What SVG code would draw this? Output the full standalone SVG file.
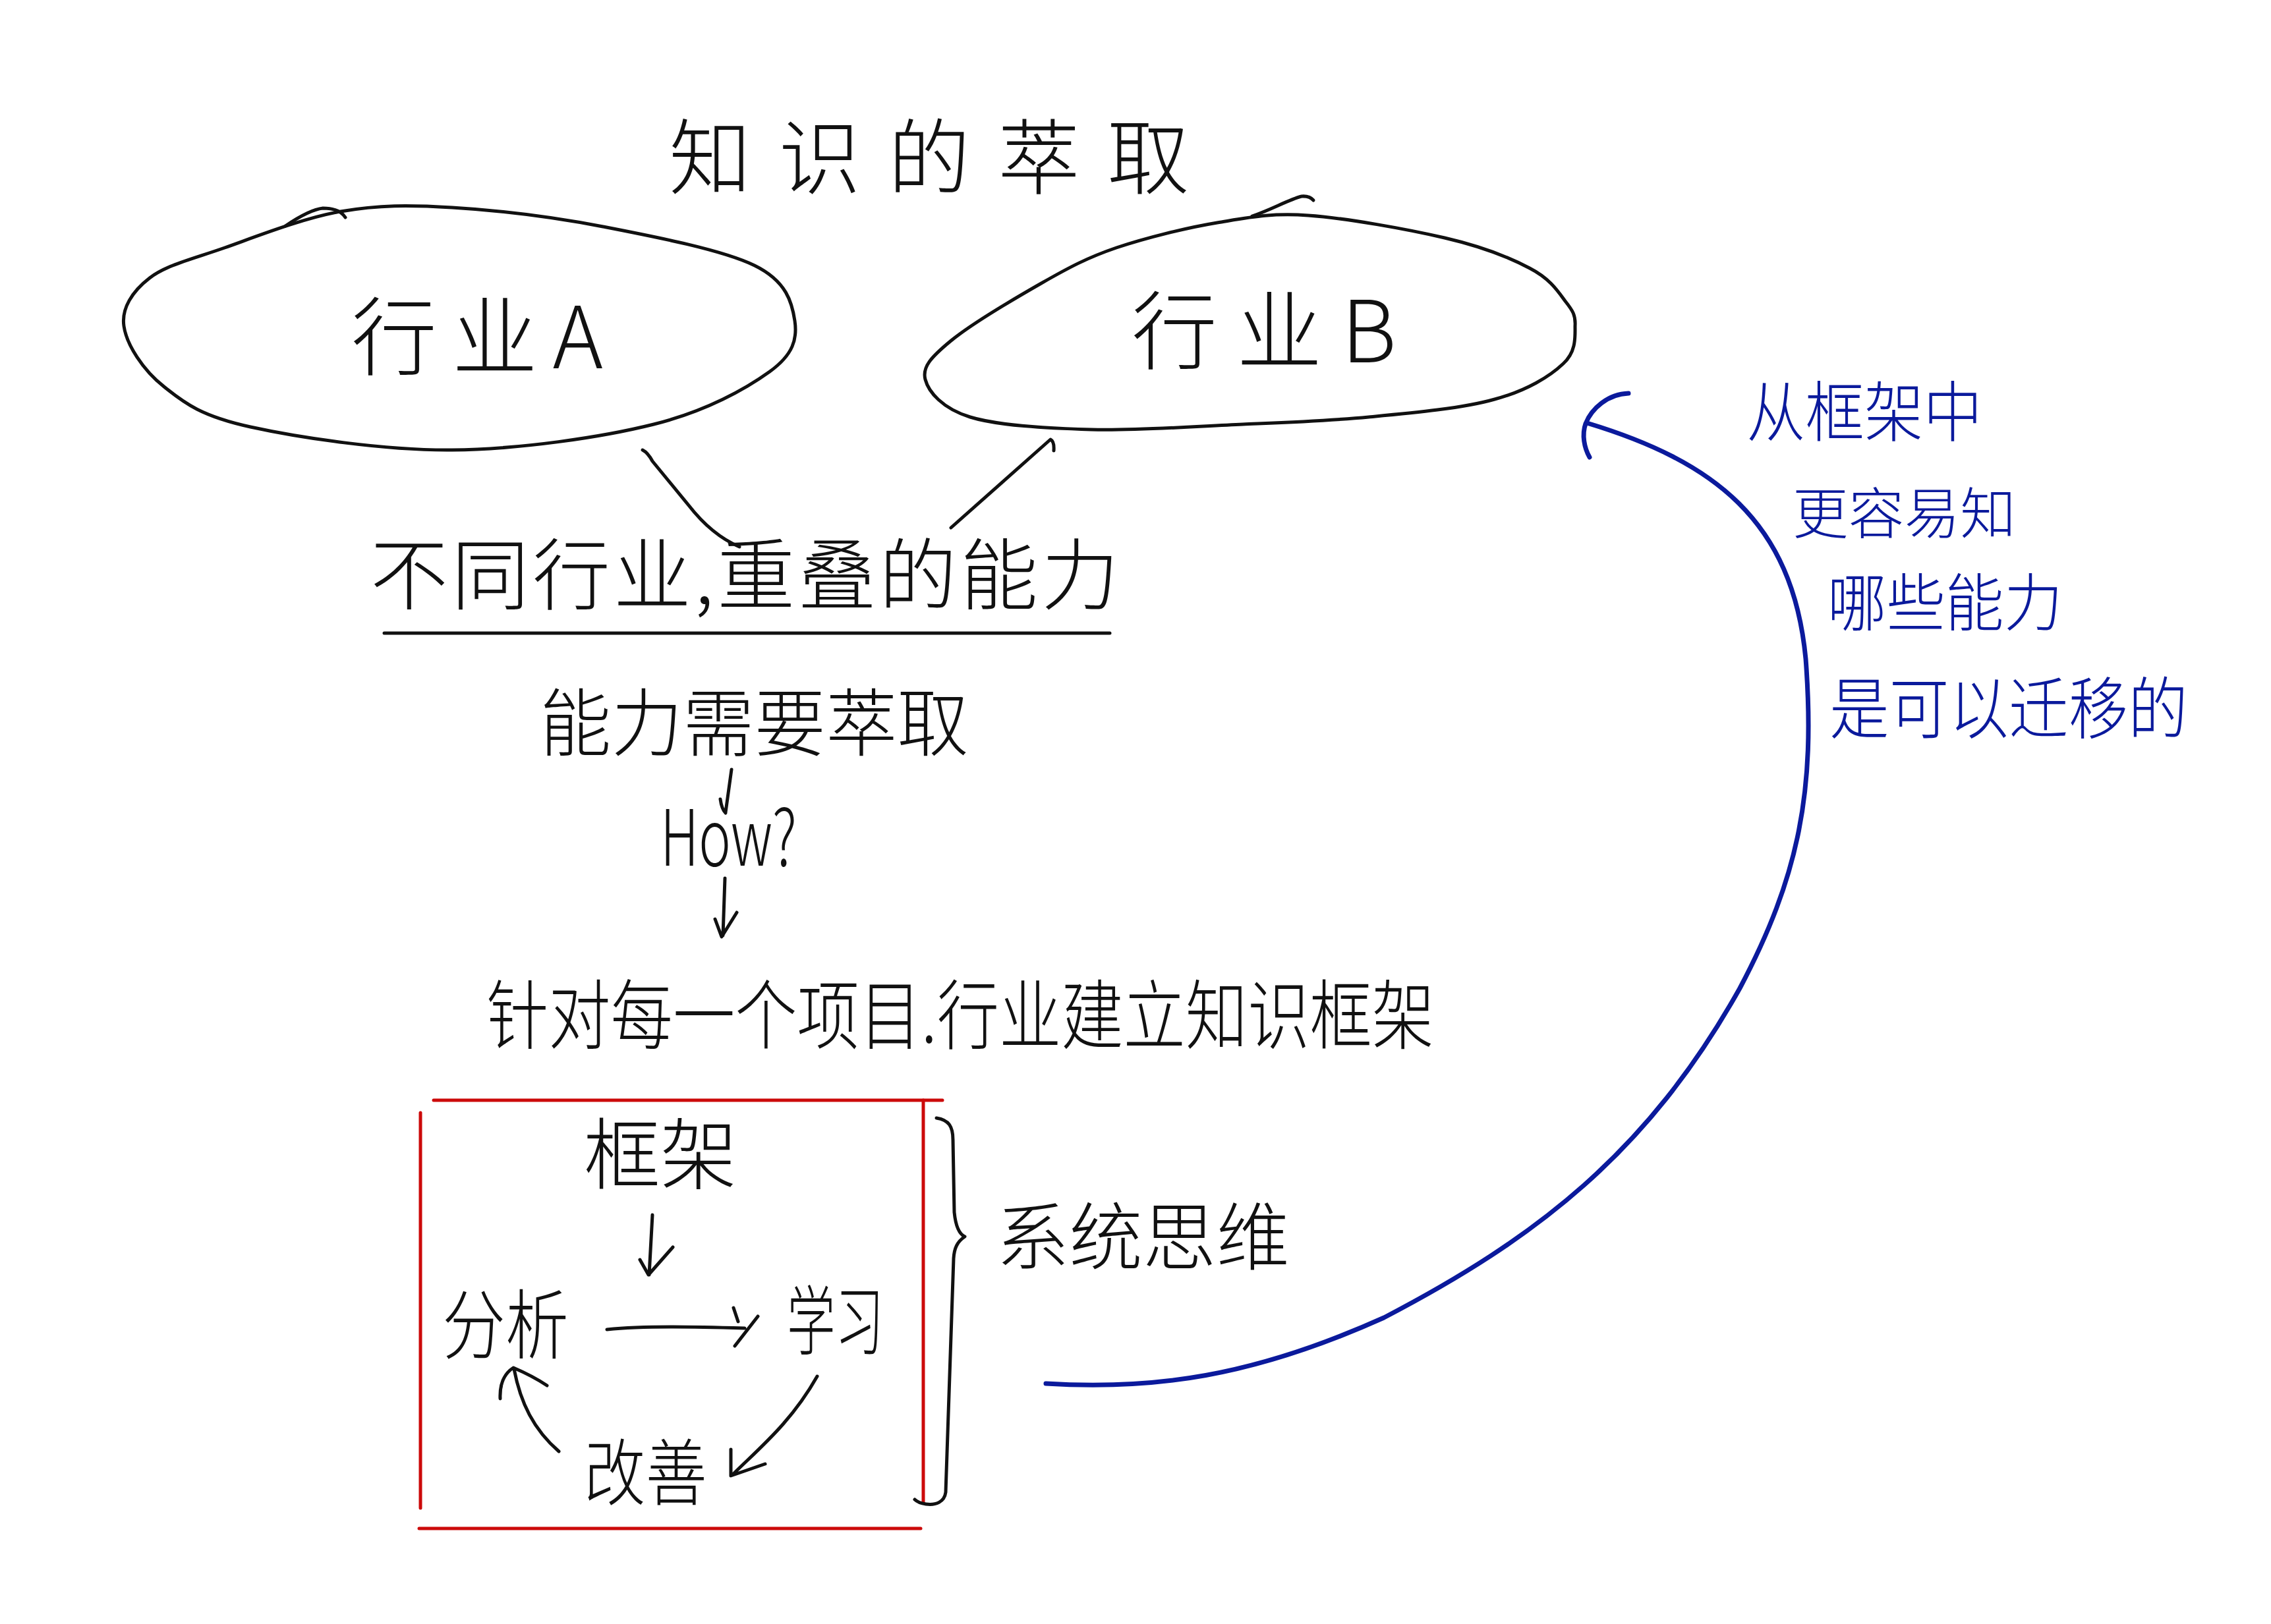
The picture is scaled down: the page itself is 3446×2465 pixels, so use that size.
<svg xmlns="http://www.w3.org/2000/svg" width="3446" height="2465" viewBox="0 0 3446 2465">
<style>
.t{font-family:"Noto Sans CJK SC","Noto Sans",sans-serif;font-weight:300;fill:#111}
.b{fill:#0b1a9c}
.ln{fill:none;stroke:#111;stroke-width:5;stroke-linecap:round;stroke-linejoin:round}
.bl{fill:none;stroke:#0b1a9c;stroke-width:7;stroke-linecap:round;stroke-linejoin:round}
.rd{fill:none;stroke:#cc0a0a;stroke-width:5;stroke-linecap:round}
</style>
<rect width="3446" height="2465" fill="#fff"/>
<g id="title"><text class="t" x="1015" y="285" font-size="125" textLength="790" lengthAdjust="spacing">知识的萃取</text></g>
<g id="industryA">
<path class="ln" d="M686,315 C752,319 838,329 915,344 C992,359 1096,379 1145,403 C1194,427 1202,460 1206,487 C1210,514 1204,538 1168,564 C1132,590 1072,624 992,644 C912,664 788,682 686,683 C584,684 453,664 380,648 C307,632 281,613 249,587 C217,562 192,523 188,495 C184,468 201,442 227,422 C253,402 293,393 341,376 C389,359 460,331 517,321 C575,311 620,311 686,315 Z"/>
<path class="ln" d="M433,343 Q470,318 490,316 Q515,316 524,330" stroke-width="4"/>
<text class="t" x="533" y="559" font-size="130" textLength="382" lengthAdjust="spacing">行业A</text>
</g>
<g id="industryB">
<path class="ln" d="M1985,327 C2043,331 2136,348 2192,361 C2248,374 2291,391 2321,407 C2352,423 2364,442 2375,457 C2387,472 2391,479 2390,495 C2390,511 2392,534 2372,552 C2352,571 2317,593 2268,606 C2219,620 2141,627 2077,633 C2013,639 1956,641 1886,644 C1816,647 1725,654 1656,652 C1587,650 1514,646 1472,633 C1430,620 1409,595 1404,576 C1399,557 1413,542 1442,518 C1471,494 1538,454 1580,430 C1622,406 1650,391 1694,376 C1739,361 1799,346 1847,338 C1896,330 1928,323 1985,327 Z"/>
<path class="ln" d="M1900,328 C1930,318 1955,303 1975,298 Q1987,297 1993,304" stroke-width="4"/>
<text class="t" x="1717" y="550" font-size="130" textLength="402" lengthAdjust="spacing">行业B</text>
</g>
<g id="overlap">
<text class="t" x="562" y="916" font-size="118" textLength="1136" lengthAdjust="spacing">不同行业,重叠的能力</text>
<path class="ln" d="M583,961 L1684,961" stroke-width="7"/>
</g>
<g id="extract"><text class="t" x="819" y="1139" font-size="112" textLength="651" lengthAdjust="spacingAndGlyphs">能力需要萃取</text></g>
<g id="how"><text class="t" x="1002" y="1314" font-size="118" textLength="207" lengthAdjust="spacingAndGlyphs">How?</text></g>
<g id="build"><text class="t" x="738" y="1583" font-size="115" textLength="1438" lengthAdjust="spacingAndGlyphs">针对每一个项目.行业建立知识框架</text></g>
<g id="systembox">
<path class="rd" d="M658,1670 L1430,1670"/>
<path class="rd" d="M638,1689 L638,2289" stroke-width="4"/>
<path class="rd" d="M636,2320 L1397,2320"/>
<path class="rd" d="M1401,1670 L1401,2281" stroke-width="3"/>
</g>
<g id="framework"><text class="t" x="886" y="1796" font-size="118" textLength="232" lengthAdjust="spacingAndGlyphs">框架</text></g>
<g id="analyze"><text class="t" x="671" y="2053" font-size="115" textLength="192" lengthAdjust="spacingAndGlyphs">分析</text></g>
<g id="learn"><text class="t" x="1194" y="2047" font-size="115" textLength="147" lengthAdjust="spacingAndGlyphs">学习</text></g>
<g id="improve"><text class="t" x="886" y="2276" font-size="110" textLength="187" lengthAdjust="spacingAndGlyphs">改善</text></g>
<g id="systemthinking"><text class="t" x="1511" y="1919" font-size="112" textLength="446" lengthAdjust="spacingAndGlyphs">系统思维</text></g>
<g id="note">
<text class="t b" x="2650" y="662" font-size="100" textLength="358" lengthAdjust="spacingAndGlyphs">从框架中</text>
<text class="t b" x="2720" y="810" font-size="84" textLength="339" lengthAdjust="spacingAndGlyphs">更容易知</text>
<text class="t b" x="2773" y="950" font-size="95" textLength="357" lengthAdjust="spacingAndGlyphs">哪些能力</text>
<text class="t b" x="2776" y="1113" font-size="102" textLength="544" lengthAdjust="spacingAndGlyphs">是可以迁移的</text>
</g>
<g id="connectors">
<path class="ln" d="M975,683 Q983,687 990,700 L1045,767 Q1080,812 1122,830"/>
<path class="ln" d="M1599,684 Q1600,670 1594,667 L1443,801" stroke-width="4"/>
<path class="ln" d="M1110,1168 L1101,1233 M1093,1213 Q1095,1228 1101,1234"/>
<path class="ln" d="M1100,1333 L1097,1420 M1085,1395 L1095,1422 L1118,1385"/>
<path class="ln" d="M990,1844 L985,1935 M971,1912 L984,1935 L1021,1893"/>
<path class="ln" d="M921,2018 C980,2012 1060,2014 1130,2016 M1113,1985 L1120,2006 M1150,1998 L1115,2043"/>
<path class="ln" d="M1240,2089 C1200,2160 1150,2200 1112,2238 M1109,2200 L1109,2240 L1161,2222"/>
<path class="ln" d="M848,2203 C810,2170 790,2130 780,2078 M759,2123 C758,2100 765,2085 779,2076 C800,2085 818,2095 830,2103"/>
<path class="ln" d="M1421,1697 C1440,1700 1446,1710 1446,1730 L1448,1840 C1450,1860 1455,1873 1464,1877 C1452,1885 1448,1895 1447,1910 L1435,2265 C1433,2280 1420,2285 1405,2283 C1398,2282 1392,2280 1388,2276" stroke-width="4"/>
<path class="bl" d="M2408,642 C2600,700 2720,790 2740,1000 C2755,1200 2730,1330 2640,1500 C2500,1750 2330,1880 2100,2000 C1900,2090 1750,2110 1587,2100"/>
<path class="bl" d="M2471,597 C2440,598 2415,620 2406,643 C2400,660 2404,680 2412,694" stroke-width="8"/>
</g>
</svg>
